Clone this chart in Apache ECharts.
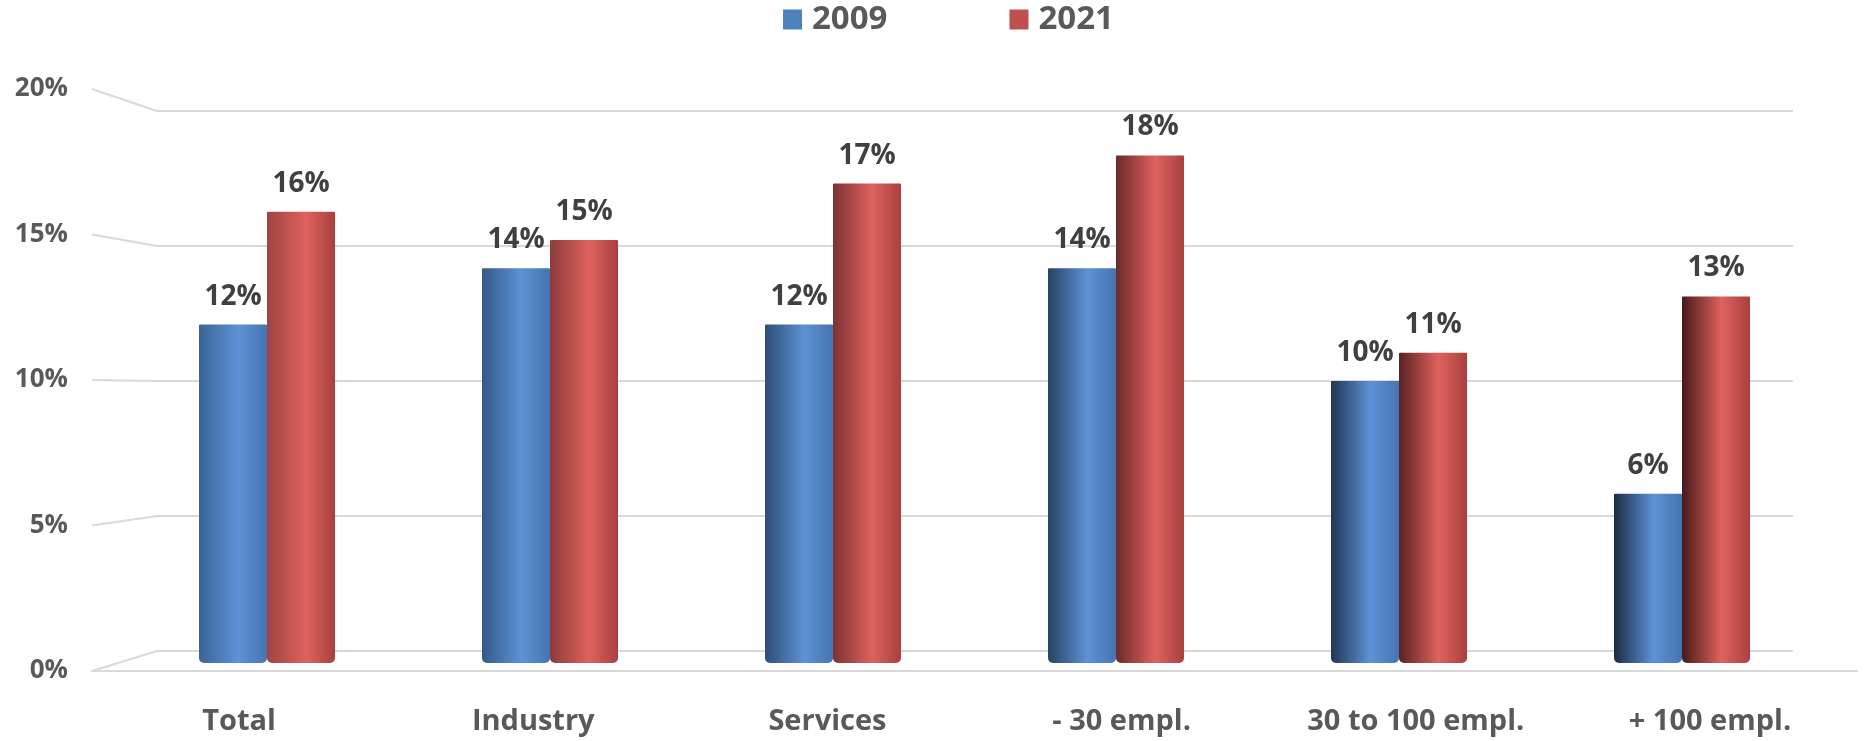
<!DOCTYPE html>
<html>
<head>
<meta charset="utf-8">
<script src="https://cdn.jsdelivr.net/npm/echarts@6/dist/echarts.min.js"></script>
<style>
  html, body { margin: 0; padding: 0; background: #ffffff; }
  #chart { width: 1864px; height: 741px; }
</style>
</head>
<body>
<div id="chart"></div>
<script>
// Share of firms by group, 2009 vs 2021 (percent)
const categories = ['Total', 'Industry', 'Services', '- 30 empl.', '30 to 100 empl.', '+ 100 empl.'];
const values2009 = [12, 14, 12, 14, 10, 6];
const values2021 = [16, 15, 17, 18, 11, 13];
const seriesNames = ['2009', '2021'];
const yMin = 0, yMax = 20, yStep = 5;

// Three stacked planes of a pseudo-3D frame: back wall, front edge (labels), bar plane
const BACK = { left: 157, right: 71, top: 111, bottom: 90 };
const FRONT = { left: 92, right: 7, top: 89, bottom: 70 };
const BARS = { left: 125.5, right: 40.5, top: 99, bottom: 78 };

const FONT = '"Open Sans", "Noto Sans", sans-serif';
const GRID_COLOR = '#d9d9d9';

function mix(a, b, t) {
  const pa = [1, 3, 5].map(k => parseInt(a.substr(k, 2), 16));
  const pb = [1, 3, 5].map(k => parseInt(b.substr(k, 2), 16));
  const c = pa.map((v, k) => Math.round(v + (pb[k] - v) * t));
  return 'rgb(' + c.join(',') + ')';
}

// Cylinder shading: shadow side darkens toward the right of the chart
function cylinder(darkFrom, darkTo, light, edge) {
  return function (p) {
    const t = p.dataIndex / (categories.length - 1);
    return new echarts.graphic.LinearGradient(0, 0, 1, 0, [
      { offset: 0, color: mix(darkFrom, darkTo, t) },
      { offset: 0.58, color: light },
      { offset: 1, color: edge }
    ]);
  };
}

const labelStyle = {
  show: true,
  position: 'top',
  distance: 14,
  formatter: '{c}%',
  fontFamily: FONT,
  fontWeight: 'bold',
  fontSize: 28,
  color: '#404040'
};

const chart = echarts.init(document.getElementById('chart'), null, { renderer: 'canvas' });

chart.setOption({
  animation: false,
  backgroundColor: '#ffffff',
  legend: {
    left: 783,
    top: 3,
    padding: 0,
    itemWidth: 19,
    itemHeight: 20,
    itemGap: 122,
    icon: 'rect',
    textStyle: {
      fontFamily: FONT, fontWeight: 'bold', fontSize: 33, color: '#595959',
      padding: [0, 0, 0, 5]
    },
    data: [
      { name: seriesNames[0], itemStyle: { color: '#4f81bd' } },
      { name: seriesNames[1], itemStyle: { color: '#c0504d' } }
    ]
  },
  grid: [
    Object.assign({ containLabel: false }, BACK),
    Object.assign({ containLabel: false }, FRONT),
    Object.assign({ containLabel: false }, BARS)
  ],
  xAxis: [
    { gridIndex: 0, type: 'category', data: categories, show: false },
    {
      gridIndex: 1, type: 'category', data: categories,
      axisLine: { show: true, lineStyle: { color: GRID_COLOR, width: 2 } },
      axisTick: { show: false },
      axisLabel: {
        margin: 36, fontFamily: FONT, fontWeight: 'bold', fontSize: 29, color: '#595959'
      }
    },
    { gridIndex: 2, type: 'category', data: categories, show: false }
  ],
  yAxis: [
    {
      gridIndex: 0, type: 'value', min: yMin, max: yMax, interval: yStep,
      axisLine: { show: false }, axisTick: { show: false }, axisLabel: { show: false },
      splitLine: { show: true, lineStyle: { color: GRID_COLOR, width: 2 } }
    },
    {
      gridIndex: 1, type: 'value', min: yMin, max: yMax, interval: yStep,
      axisLine: { show: false }, axisTick: { show: false },
      splitLine: { show: false },
      axisLabel: {
        margin: 24, formatter: '{value}%',
        fontFamily: FONT, fontWeight: 'bold', fontSize: 26, color: '#595959'
      }
    },
    { gridIndex: 2, type: 'value', min: yMin, max: yMax, interval: yStep, show: false }
  ],
  series: [
    {
      name: seriesNames[0], type: 'bar', xAxisIndex: 2, yAxisIndex: 2,
      data: values2009, barWidth: 68, barGap: '0%', z: 5,
      itemStyle: { color: cylinder('#3b6498', '#1b2b42', '#5d92d6', '#4674b0'), borderRadius: [1, 1, 5, 5] },
      label: labelStyle
    },
    {
      name: seriesNames[1], type: 'bar', xAxisIndex: 2, yAxisIndex: 2,
      data: values2021, barWidth: 68, barGap: '0%', z: 5,
      itemStyle: { color: cylinder('#9e4444', '#461a1a', '#df625e', '#a84040'), borderRadius: [1, 1, 5, 5] },
      label: labelStyle
    }
  ]
});

// Side-wall gridlines: join each tick on the front edge to the same tick on the back wall
const ticks = [];
for (let v = yMin; v <= yMax; v += yStep) ticks.push(v);
chart.setOption({
  graphic: ticks.map(v => ({
    type: 'line',
    silent: true,
    z: 1,
    shape: {
      x1: FRONT.left, y1: chart.convertToPixel({ yAxisIndex: 1 }, v),
      x2: BACK.left, y2: chart.convertToPixel({ yAxisIndex: 0 }, v)
    },
    style: { stroke: GRID_COLOR, lineWidth: 2 }
  }))
});
</script>
</body>
</html>
